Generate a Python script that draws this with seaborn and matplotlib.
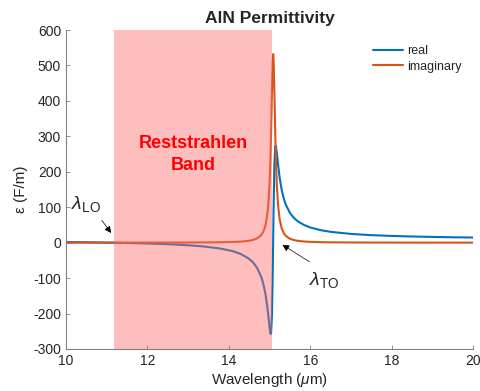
import matplotlib
matplotlib.use("Agg")
import matplotlib.pyplot as plt
import seaborn as sns
import pandas as pd

# ---- data ----
wavelength = [10.0, 10.5, 11.0, 11.5, 12.0, 12.5, 13.0, 13.4, 13.8, 14.1, 14.3,
              14.5, 14.6, 14.7, 14.8, 14.85, 14.9, 14.94, 14.97, 15.0, 15.02,
              15.03, 15.04, 15.06, 15.08, 15.09, 15.10, 15.12, 15.14, 15.15,
              15.16, 15.18, 15.21, 15.25, 15.3, 15.35, 15.4, 15.5, 15.6, 15.7,
              15.85, 16.0, 16.25, 16.5, 17.0, 17.5, 18.0, 18.5, 19.0, 19.5, 20.0]
eps_real = [1.7, 1.0, 0.2, -0.9, -2.3, -4.3, -7.3, -10.9, -16.7, -24.1, -32.2,
            -45.6, -56.2, -72.0, -97.6, -117.2, -144.7, -175.4, -204.8, -237.5, -254.9,
            -258.0, -253.6, -204.8, -78.3, 8.0, 94.3, 220.8, 269.6, 274.0,
            270.9, 253.5, 220.8, 182.9, 148.5, 124.6, 107.3, 84.2, 69.7, 59.8,
            49.8, 42.9, 35.4, 30.6, 24.7, 21.2, 19.0, 17.4, 16.2, 15.2, 14.5]
eps_imag = [0.07, 0.09, 0.11, 0.15, 0.20, 0.29, 0.44, 0.67, 1.15, 1.95, 3.05,
            5.4, 7.9, 12.3, 21.8, 31.3, 48.2, 73.4, 106.4, 163.7, 225.3,
            266.0, 314.0, 425.6, 517.6, 532.0, 517.6, 425.6, 314.0, 266.0,
            225.3, 163.7, 106.4, 65.6, 40.2, 26.9, 19.2, 11.2, 7.3, 5.1,
            3.3, 2.3, 1.4, 0.96, 0.52, 0.33, 0.23, 0.16, 0.13, 0.10, 0.08]
series_names = ["real", "imaginary"]
series_colors = ["#0072BD", "#D95319"]
band_edges = [11.18, 15.05]
x_ticks = [10, 12, 14, 16, 18, 20]
y_ticks = [-300, -200, -100, 0, 100, 200, 300, 400, 500, 600]

sns.set_style("ticks")
plt.rcParams["font.family"] = ["Liberation Sans", "DejaVu Sans"]
plt.rcParams["mathtext.fontset"] = "custom"
plt.rcParams["mathtext.rm"] = "Liberation Sans"
plt.rcParams["mathtext.it"] = "Liberation Sans:italic"
plt.rcParams["mathtext.bf"] = "Liberation Sans:bold"
plt.rcParams["axes.unicode_minus"] = False

df = pd.DataFrame({
    "Wavelength": wavelength * 2,
    "value": eps_real + eps_imag,
    "series": [series_names[0]] * len(wavelength) + [series_names[1]] * len(wavelength),
})

fig = plt.figure(figsize=(4.8, 3.91), dpi=100)
ax = fig.add_axes([66 / 480, 1 - 349 / 391, 407 / 480, 319 / 391])

sns.lineplot(data=df, x="Wavelength", y="value", hue="series",
             palette=dict(zip(series_names, series_colors)), linewidth=1.5,
             ax=ax, sort=False, estimator=None, zorder=2)

ax.axvspan(band_edges[0], band_edges[1], color=(1.0, 0.41, 0.41), alpha=0.43,
           lw=0, zorder=3)

ax.set_xlim(10, 20)
ax.set_ylim(-300, 600)
ax.set_xticks(x_ticks)
ax.set_yticks(y_ticks)
ax.tick_params(direction="in", length=3, width=0.6, colors="#808080",
               labelcolor="#262626", labelsize=10)
for s in ["left", "bottom"]:
    ax.spines[s].set_color("#808080")
    ax.spines[s].set_linewidth(0.8)
sns.despine(ax=ax)

ax.set_xlabel(r"Wavelength ($\mu$m)", fontsize=11, color="#262626", labelpad=2)
ax.set_ylabel("ε (F/m)", fontsize=11, color="#262626", labelpad=4)
ax.set_title("AlN Permittivity", fontsize=12.5, fontweight="bold", pad=5)

ax.text(13.12, 248, "Reststrahlen\nBand", color="red", fontsize=13,
        fontweight="bold", ha="center", va="center", zorder=5, linespacing=1.35)

ax.annotate("", xy=(11.15, 21), xytext=(10.84, 69),
            arrowprops=dict(arrowstyle="-|>", color="k", lw=0.5,
                            mutation_scale=10), zorder=6)
ax.text(10.49, 108, r"$\lambda_{\rm LO}$", fontsize=14, ha="center", va="center")
ax.annotate("", xy=(15.26, -2), xytext=(16.04, -58),
            arrowprops=dict(arrowstyle="-|>", color="k", lw=0.5,
                            mutation_scale=10), zorder=6)
ax.text(16.34, -106, r"$\lambda_{\rm TO}$", fontsize=14, ha="center", va="center")

handles, labels = ax.get_legend_handles_labels()
ax.legend(handles, labels, loc="upper left", bbox_to_anchor=(0.755, 0.953),
          frameon=False, fontsize=9, handlelength=2.4, handletextpad=0.3,
          labelspacing=0.3, borderaxespad=0, borderpad=0)

fig.savefig("out.png", dpi=100)
